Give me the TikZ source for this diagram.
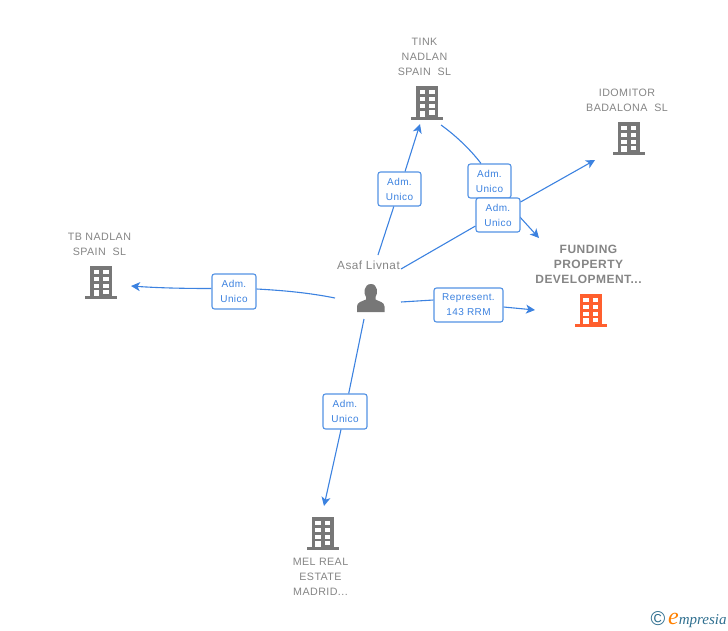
\documentclass[tikz,border=0pt]{standalone}
\usepackage{fontspec}
\setmainfont{Liberation Sans}[LetterSpace=4]
\newfontfamily\logofont{Liberation Serif}
\usetikzlibrary{arrows.meta}
\definecolor{linkblue}{HTML}{3C82E0}
\definecolor{boxblue}{HTML}{5392E4}
\definecolor{txtgrey}{HTML}{858585}
\definecolor{icongrey}{HTML}{777777}
\definecolor{hot}{HTML}{FF5F2E}
\definecolor{logoteal}{HTML}{2F6F8F}
\tikzset{
  x=1pt,y=-1pt,
  conn/.style={draw=linkblue,line width=1.1pt},
  arrowed/.style={conn,-{Stealth[length=9pt,width=9pt,inset=2.5pt]}},
  tag/.style={draw=boxblue,fill=white,rounded corners=2.5pt,line width=1.1pt,align=center,
    text=linkblue,font=\fontsize{10}{15}\selectfont,inner sep=0pt,anchor=center},
  caption/.style={align=center,text=txtgrey,font=\fontsize{10.7}{15}\selectfont,inner sep=0pt},
  captionb/.style={align=center,text=txtgrey,font=\fontsize{12}{15}\selectfont\bfseries,inner sep=0pt},
  pics/tower/.style={code={
    \fill[#1] (-11,-33.5) rectangle (11,-1);
    \fill[#1] (-16,-2.7) rectangle (16,0);
    \foreach \cx in {-7.5,2} {\foreach \cy in {-29.5,-22.5,-15.5} {\fill[white] (\cx,\cy) rectangle ++(5.5,4.3);}}
    \fill[white] (2,-9.5) rectangle ++(5.5,4.8);
    \fill[white] (-7.5,-9) rectangle (-2,-2.7);
  }},
}
\begin{document}
\begin{tikzpicture}
\useasboundingbox (0,0) rectangle (728,630);
% free connector ends
\coordinate (pw) at (335,298);
\coordinate (pn) at (378,255);
\coordinate (pne) at (401,269);
\coordinate (pe) at (401,302);
\coordinate (ps) at (364,319);
\coordinate (tbend) at (131,286);
\coordinate (tinkend) at (420,124);
\coordinate (tinkout) at (441,125);
\coordinate (fundtop) at (539,238);
\coordinate (idoend) at (595,160);
\coordinate (fundend) at (535,310);
\coordinate (melend) at (324,506);
% tags
\node[tag,minimum width=44pt,minimum height=35pt] (t1) at (234,291.5) {Adm.\\Unico};
\node[tag,minimum width=43pt,minimum height=34pt] (t2) at (399.5,189) {Adm.\\Unico};
\node[tag,minimum width=69pt,minimum height=34pt] (t5) at (468.5,305) {Represent.\\143 RRM};
\node[tag,minimum width=44pt,minimum height=35pt] (t6) at (345,411.5) {Adm.\\Unico};
% connectors
\draw[conn] (pw) .. controls (310,293) and (285,290.5) .. (t1.east |- 0,289);
\draw[arrowed] (t1.west |- 0,288.5) .. controls (185,288.5) and (160,288) .. (tbend);
\draw[conn] (pn) -- (t2);
\draw[arrowed] (t2) -- (tinkend);
\draw[conn] (pe) -- (t5.west |- 0,300);
\draw[arrowed] (t5.east |- 0,307) -- (fundend);
\draw[conn] (ps) -- (t6);
\draw[arrowed] (t6) -- (melend);
\node[tag,minimum width=43pt,minimum height=34pt] (t3) at (489.5,181) {Adm.\\Unico};
\draw[conn] (tinkout) .. controls (455,135) and (470,149) .. (t3.north -| 481,0);
\draw[arrowed] (519,216) -- (fundtop);
\node[tag,minimum width=44pt,minimum height=34pt] (t4) at (498,215) {Adm.\\Unico};
\draw[conn] (pne) -- (t4.west |- 0,226);
\draw[arrowed] (t4.east |- 0,202) -- (idoend);
% companies
\pic at (101,299) {tower=icongrey};
\pic at (427,119.5) {tower=icongrey};
\pic at (628.5,155) {tower=icongrey};
\pic at (590.5,327) {tower=hot};
\pic at (322.5,550) {tower=icongrey};
\node[caption] (nTB) at (99.5,244) {TB NADLAN\\SPAIN\ \ SL};
\node[caption] (nTI) at (424.5,56.5) {TINK\\NADLAN\\SPAIN\ \ SL};
\node[caption] (nID) at (627,100) {IDOMITOR\\BADALONA\ \ SL};
\node[captionb] (nFU) at (588.5,264) {FUNDING\\PROPERTY\\DEVELOPMENT...};
\node[caption] (nME) at (320.5,577) {MEL REAL\\ESTATE\\MADRID...};
% person
\node[caption,font=\fontsize{11.8}{15}\selectfont] (nAS) at (368.5,265) {Asaf Livnat};
\fill[icongrey] (357,312) -- (357,306.5) .. controls (357,302) and (362,301.5) .. (366,299.5)
  -- (366,297) .. controls (363.5,294) and (363.5,284) .. (371,284)
  .. controls (378,284) and (378,294) .. (375.5,297) -- (375.5,299.5)
  .. controls (379,301.5) and (384.5,302) .. (384.5,306.5) -- (384.5,312) -- cycle;
% logo
\node[inner sep=0pt,text=logoteal,font=\fontsize{20}{20}\selectfont] (cc) at (658,619) {\textcopyright};
\node[inner sep=0pt,anchor=base west,font=\logofont\itshape\fontsize{15}{15}\selectfont,text=logoteal] (em) at (668,624) {\textcolor{orange}{\fontsize{24}{24}\selectfont e}mpresia};
\end{tikzpicture}
\end{document}
